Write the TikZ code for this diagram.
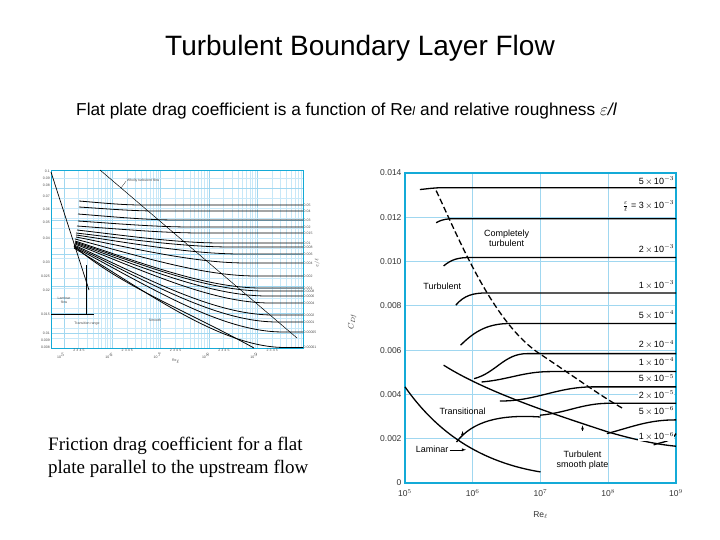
\documentclass[tikz,border=0pt]{standalone}
\usepackage{fontspec}
\setmainfont{Liberation Sans}
\newfontfamily\serifb{Liberation Serif}
\definecolor{frm}{RGB}{20,170,215}
\definecolor{grd}{RGB}{160,215,240}
\definecolor{grf}{RGB}{200,232,248}
\begin{document}
\begin{tikzpicture}[x=1pt,y=-1pt,
  frame/.style={draw=frm, line width=1.4pt},
  gridl/.style={draw=grd, line width=0.7pt},
  gridf/.style={draw=grf, line width=0.35pt},
  curve/.style={line width=1.3pt, black},
  lcurve/.style={line width=0.8pt, black},
  ticklab/.style={font=\fontsize{8.5}{9}\selectfont, text=black!80},
  tiny/.style={font=\fontsize{3.5}{4}\selectfont, text=black!70, inner sep=0.5pt},
  lab/.style={font=\fontsize{9}{10}\selectfont, inner sep=1pt}]
\useasboundingbox (0,0) rectangle (720,540);
\node (title) at (360,48) {\fontsize{28}{32}\selectfont Turbulent Boundary Layer Flow};
\node[anchor=west, inner sep=0pt] (sub) at (76,111) {\fontsize{17.3}{20}\selectfont Flat plate drag coefficient is a function of Re\textit{\fontsize{12}{13}\selectfont l} and relative roughness \textit{$\varepsilon$/l}};
\node[anchor=north west, align=left, inner sep=0pt, font=\serifb\fontsize{19}{23}\selectfont] (cap) at (48,437) {Friction drag coefficient for a flat\\plate parallel to the upstream flow};

% ---------- right chart ----------
\begin{scope}[shift={(405,483)}, x=67.75pt, y=22.15pt]
  \foreach \i in {1,2,3} \draw[gridl] (\i,0) -- (\i,14);
  \foreach \j in {2,4,...,12} \draw[gridl] (0,\j) -- (4,\j);
  \draw[frame] (0,0) rectangle (4,14);
  \foreach \j/\t in {0/0,2/0.002,4/0.004,6/0.006,8/0.008,10/0.010,12/0.012,14/0.014}
    \node[ticklab, anchor=east] (yt\j) at (0,\j) {\t};
  \foreach \i/\e in {0/5,1/6,2/7,3/8,4/9}
    \node[ticklab, anchor=north] (xt\i) at (\i,-0.15) {10$^{\e}$};
  \node[ticklab, rotate=90] (cdf) at (-0.78,7.3) {$C_{D\!f}$};
  \node[ticklab] (rel) at (2,-1.45) {Re$_\ell$};
  % roughness curves
  \draw[curve] (0.22,13.25) to[out=5,in=180] (0.55,13.33) -- (4,13.33);
  \draw[curve] (0.46,11.75) to[out=30,in=180] (0.75,11.93) -- (4,11.93);
  \draw[curve] (0.57,9.8) to[out=40,in=180] (0.96,10.18) -- (4,10.18);
  \draw[curve] (0.75,8.03) to[out=50,in=180] (1.2,8.58) -- (4,8.58);
  \draw[curve] (0.82,6.22) to[out=45,in=180] (1.55,7.2) -- (4,7.2);
  \draw[curve] (1.02,4.71) to[out=15,in=180] (1.8,5.84) -- (4,5.84);
  \draw[curve] (1.13,4.56) to[out=5,in=180] (2.15,5.03) -- (4,5.03);
  \draw[curve] (1.40,3.70) to[out=0,in=180] (2.78,4.34) -- (4,4.34);
  \draw[curve] (1.99,3.06) to[out=5,in=180] (3.02,3.6) -- (4,3.6);
  \draw[curve] (2.98,2.23) to[out=15,in=180] (4,2.85);
  \draw[curve] (3.67,1.72) to[out=20,in=240] (4,2.23);
  % smooth plate
  \draw[curve] (0.57,5.32) .. controls (1.2,4.1) and (2.2,3.1) .. (3.0,2.3) .. controls (3.4,1.95) and (3.7,1.75) .. (4,1.66);
  % laminar
  \draw[curve] (0,4.34) .. controls (0.4,2.6) and (1.0,1.0) .. (2,0.5);
  % transitional
  \draw[curve] (0.76,1.85) .. controls (1.0,2.8) and (1.4,3.1) .. (2.0,2.98);
  % dashed
  \draw[curve, dashed, dash pattern=on 6pt off 3pt] (0.46,13.2) .. controls (0.8,11) and (1.3,7.2) .. (2.0,5.81) .. controls (2.5,4.8) and (2.9,3.9) .. (3.22,3.36);
  % labels
  \node[lab, align=center] (ct) at (1.5,11.05) {Completely\\turbulent};
  \node[lab] (tb) at (0.55,8.9) {Turbulent};
  \node[lab] (tr) at (0.85,3.25) {Transitional};
  \node[lab] (lm) at (0.4,1.5) {Laminar};
  \coordinate (lmt) at (0.9,1.5);
  \draw[-latex, thin] (lm) -- (lmt);
  \coordinate (trt) at (0.85,2.35);
  \draw[-latex, thin] (0.85,2.2) -- (trt);
  \node[lab, align=center] (ts) at (2.62,1.05) {Turbulent\\smooth plate};
  \coordinate (tst) at (2.62,2.6);
  \draw[-latex, thin] (2.62,2.35) -- (tst);
  \foreach \y/\t in {13.65/{5\,$\times$\,10$^{-3}$},10.55/{2\,$\times$\,10$^{-3}$},8.95/{1\,$\times$\,10$^{-3}$},7.6/{5\,$\times$\,10$^{-4}$},6.25/{2\,$\times$\,10$^{-4}$},5.45/{1\,$\times$\,10$^{-4}$},4.72/{5\,$\times$\,10$^{-5}$},3.97/{2\,$\times$\,10$^{-5}$},3.25/{5\,$\times$\,10$^{-6}$},2.1/{1\,$\times$\,10$^{-6}$}}
    \node[lab, anchor=east, fill=white, inner sep=0.5pt] at (3.98,\y) {\t};
  \node[lab, anchor=east, fill=white, inner sep=0.5pt] (eps) at (3.98,12.5) {$\frac{\varepsilon}{\ell}$ = 3\,$\times$\,10$^{-3}$};
\end{scope}

% ---------- left chart ----------
\begin{scope}[shift={(51,348)}]
  \foreach \d in {0,1,2,3,4}{
    \foreach \m in {2,3,4,5,6,7,8,9}
      \pgfmathsetmacro\xx{min(252,13+48.3*\d+48.3*log10(\m))}
      \draw[gridf] (\xx,0) -- (\xx,-178);
    \draw[gridl] ({13+48.3*\d},0) -- ({13+48.3*\d},-178);
  }
  \foreach \yy in {10,20,...,170} \draw[gridf] (0,-\yy) -- (252,-\yy);
  \foreach \yy in {15,35,62,94,128,160} \draw[gridl] (0,-\yy) -- (252,-\yy);
  \draw[frame, line width=0.9pt] (0,0) rectangle (252,-178);
  % family
  \foreach \sy/\sx/\ex/\fy in {
     -147/28/90/-143, -141/28/105/-137, -134/27/125/-128, -127/27/140/-121, -122/26/150/-115,
     -118/26/170/-105, -115/25/180/-101, -113/25/190/-94, -111/25/195/-85, -109/24/205/-72,
     -107/24/210/-60, -106/24/213/-57, -105/24/216/-52, -104/24/219/-45, -103/23/222/-33,
     -102/23/226/-26, -101/23/232/-16, -100/23/234/-0.5}
    \draw[lcurve] (\sx,\sy) .. controls ({\sx+0.35*(\ex-\sx)},{\fy+0.55*(\sy-\fy)}) and ({\ex-0.3*(\ex-\sx)},\fy) .. (\ex,\fy) -- (252,\fy);
  \draw[lcurve] (23,-102) .. controls (70,-62) and (130,-40) .. (203,0);
  \draw[line width=0.7pt] (0,-176) -- (38,-58);
  \draw[line width=0.5pt] (49,-178) -- (246,-10);
  \draw[thin] (0,-34) -- (43,-34);
  \draw[thin] (35,-34) -- (35,-83);
  \node[tiny, align=center] (lf) at (13,-48) {Laminar\\flow};
  \node[tiny] (trg) at (36,-24) {Transition range};
  \node[tiny] (sm) at (104,-28) {Smooth};
  \node[tiny] (wt) at (92,-167) {Wholly turbulent flow};
  \draw[very thin] (wt.west) -- (70,-160);
  \foreach \yy/\t in {-177/0.1,-170/0.09,-163/0.08,-152/0.07,-139/0.06,-126/0.05,-110/0.04,-86/0.03,-72/0.025,-58/0.02,-34/0.015,-15/0.01,-8/0.009,-1/0.008}
    \node[tiny, anchor=east] at (-0.5,\yy) {\t};
  \foreach \yy/\t in {-143/0.05,-137/0.04,-128/0.03,-121/0.02,-115/0.015,-105/0.01,-101/0.008,-94/0.006,-85/0.004,-72/0.002,-60/0.001,-57/0.0008,-52/0.0006,-45/0.0004,-33/0.0002,-26/0.0001,-16/0.00005,-1/0.00001}
    \node[tiny, anchor=west] at (252,\yy) {\t};
  \node[tiny, rotate=90] at (266,-85) {$\varepsilon/\ell$};
  \foreach \d/\t in {0/10$^5$,1/10$^6$,2/10$^7$,3/10$^8$,4/10$^9$}
    \node[tiny] at ({13+48.3*\d-3},8) {\t};
  \foreach \d in {0,1,2,3,4}
    \node[tiny] at ({13+48.3*\d+15},2.5) {2\,\,3\,\,4\,\,5};
  \node[tiny] at (125,13) {Re$_\ell$};
\end{scope}
\end{tikzpicture}
\end{document}
